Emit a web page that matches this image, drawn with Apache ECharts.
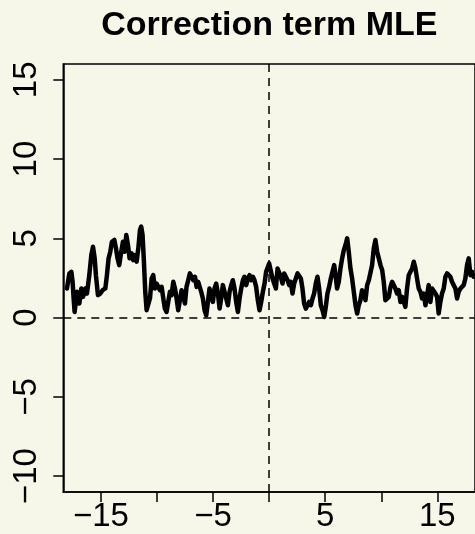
<!DOCTYPE html>
<html>
<head>
<meta charset="utf-8">
<script src="https://cdn.jsdelivr.net/npm/echarts@6/dist/echarts.min.js"></script>
<style>
  html, body { margin: 0; padding: 0; background: #F6F6E9; }
  #chart { width: 475px; height: 534px; }
</style>
</head>
<body>
<div id="chart"></div>
<script>
// Correction term estimate along the position axis
const positions = [
  -18.03, -17.82, -17.64, -17.53, -17.44, -17.35, -17.14, -16.93, -16.75, -16.60,
  -16.40, -16.25, -16.04, -15.86, -15.71, -15.56, -15.45, -15.27, -15.06, -14.85,
  -14.61, -14.47, -14.32, -14.17, -14.02, -13.81, -13.66, -13.52, -13.37, -13.19,
  -13.04, -12.89, -12.74, -12.59, -12.45,
  -12.27, -12.12, -11.97, -11.82, -11.67, -11.52, -11.41, -11.29, -11.17, -11.05,
  -10.93, -10.78, -10.63, -10.48, -10.34, -10.19, -10.04, -9.89, -9.74, -9.59,
  -9.44, -9.30, -9.15, -9.00, -8.85, -8.70, -8.55, -8.40, -8.26, -8.11,
  -7.96, -7.81, -7.66, -7.51, -7.37, -7.22, -7.07, -6.92, -6.77, -6.62,
  -6.47, -6.33,
  -6.21, -6.06, -5.91, -5.76, -5.61, -5.46, -5.32, -5.17, -5.02, -4.87,
  -4.72, -4.57, -4.42, -4.28, -4.13, -3.98, -3.83, -3.68, -3.53, -3.38,
  -3.24, -3.09, -2.94, -2.79, -2.64, -2.49, -2.34, -2.20, -2.05, -1.90,
  -1.75, -1.60, -1.45, -1.31, -1.16, -1.01, -0.86, -0.71, -0.56, -0.41,
  -0.27,
  -0.15, 0.00, 0.15, 0.30, 0.45, 0.60, 0.75, 0.89, 1.04, 1.19,
  1.34, 1.49, 1.64, 1.79, 1.93, 2.08, 2.23, 2.38, 2.53, 2.68,
  2.83, 2.97, 3.12, 3.27, 3.42, 3.57, 3.72, 3.87, 4.01, 4.16,
  4.31, 4.46, 4.61, 4.76, 4.91, 5.05, 5.20, 5.35, 5.50, 5.65,
  5.80,
  5.92, 6.06, 6.21, 6.36, 6.51, 6.66, 6.81, 6.96, 7.10, 7.25,
  7.40, 7.55, 7.70, 7.85, 7.99, 8.14, 8.29, 8.44, 8.59, 8.74,
  8.89, 9.04, 9.18, 9.33, 9.48, 9.63, 9.78, 9.93, 10.08, 10.22,
  10.37, 10.52, 10.67, 10.82, 10.97, 11.12, 11.26, 11.41, 11.56, 11.71,
  11.86,
  12.01, 12.15, 12.30, 12.45, 12.60, 12.75, 12.90, 13.05, 13.19, 13.34,
  13.49, 13.64, 13.79, 13.94, 14.09, 14.23, 14.38, 14.53, 14.68, 14.83,
  14.98, 15.12, 15.27, 15.42, 15.57, 15.72, 15.87, 16.02, 16.16, 16.31,
  16.46, 16.61, 16.76, 16.91, 17.06, 17.20, 17.35, 17.50, 17.65, 17.80,
  17.95, 18.10, 18.24, 18.50
];

const correction = [
  1.84, 2.79, 2.89, 2.26, 1.21, 0.36, 1.63, 0.89, 1.84, 1.31,
  1.84, 1.52, 2.68, 3.95, 4.47, 3.74, 2.68, 1.42, 1.52, 1.73,
  1.84, 2.68, 3.74, 4.16, 4.79, 4.90, 4.37, 3.74, 3.31, 4.16,
  4.79, 4.16, 5.21, 4.58, 3.74,
  4.05, 3.63, 3.95, 3.53, 4.37, 5.53, 5.74, 5.21, 3.53, 1.63,
  0.47, 0.36, 1.21, 2.47, 2.68, 1.84, 2.15, 1.94, 1.73, 1.94,
  1.21, 0.57, 0.36, 0.99, 1.63, 1.42, 2.26, 1.84, 1.21, 0.47,
  1.10, 1.73, 1.63, 0.89, 1.94, 2.36, 2.79, 2.89, 2.36, 2.58,
  1.94, 2.26,
  2.36, 1.63, 1.21, 0.47, 0.15, 0.99, 1.84, 1.84, 0.99, 1.84,
  2.15, 1.52, 0.57, 1.21, 2.05, 1.94, 1.21, 0.78, 1.63, 2.05,
  2.36, 1.84, 0.99, 0.36, 1.21, 1.84, 2.36, 2.58, 2.05, 2.47,
  2.68, 2.36, 2.58, 2.36, 1.94, 1.10, 0.47, 0.99, 1.63, 2.15,
  2.89,
  2.89, 3.42, 3.31, 2.47, 2.58, 1.84, 3.10, 3.21, 2.58, 2.15,
  2.79, 2.68, 2.36, 2.05, 2.26, 1.52, 2.15, 2.47, 2.79, 2.89,
  2.47, 1.84, 0.89, 0.57, 0.78, 0.99, 0.78, 1.21, 1.52, 2.15,
  2.58, 1.84, 0.78, 0.47, 0.04, 0.68, 1.52, 1.94, 2.47, 2.89,
  3.31,
  2.68, 1.84, 2.26, 3.10, 3.74, 4.26, 4.58, 5.00, 4.16, 3.10,
  2.47, 1.63, 0.78, 0.26, 0.78, 1.10, 1.73, 1.52, 1.10, 2.05,
  2.36, 2.36, 3.31, 4.37, 4.90, 4.16, 3.74, 3.31, 3.00, 2.26,
  1.10, 0.99, 1.31, 1.94, 2.26, 2.15, 1.84, 1.52, 1.73, 0.99,
  1.31,
  0.99, 0.68, 1.84, 2.68, 2.89, 3.10, 3.53, 3.10, 2.47, 1.84,
  1.63, 1.21, 1.52, 0.78, 1.42, 2.05, 0.99, 1.84, 1.94, 1.52,
  1.31, 0.26, 0.99, 1.52, 1.84, 2.58, 2.79, 2.68, 2.58, 2.26,
  2.05, 1.84, 1.21, 1.63, 1.84, 1.84, 2.05, 2.47, 3.31, 3.74,
  2.68, 2.89, 2.58, 2.60
];

const xTicks = [-15, -10, -5, 0, 5, 10, 15];
const xTickLabels = [-15, -5, 5, 15];
const yTicks = [-10, -5, 0, 5, 10, 15];
const xLimits = [-18.36, 18.36];
const yLimits = [-11, 16];

const FONT = "'Liberation Sans', Arial, Helvetica, sans-serif";
const minus = v => String(v).replace('-', '\u2212');

const chart = echarts.init(document.getElementById('chart'), null, { renderer: 'canvas' });

chart.setOption({
  backgroundColor: '#F6F6E9',
  animation: false,
  title: {
    text: 'Correction term MLE',
    left: 269.3,
    textAlign: 'center',
    top: 9,
    padding: 0,
    textStyle: { fontFamily: FONT, fontWeight: 'bold', fontSize: 34, color: '#000' }
  },
  grid: {
    left: 63.3,
    top: 64,
    width: 412,
    height: 428,
    show: true,
    borderColor: '#000',
    borderWidth: 1.5,
    backgroundColor: 'transparent'
  },
  xAxis: {
    type: 'value',
    min: xLimits[0],
    max: xLimits[1],
    splitLine: { show: false },
    axisLine: { show: true, onZero: false, lineStyle: { color: '#000', width: 1.5 } },
    axisTick: {
      show: true, inside: false, length: 10,
      customValues: xTicks,
      lineStyle: { color: '#000', width: 1.5 }
    },
    axisLabel: {
      customValues: xTickLabels,
      formatter: minus,
      margin: 8,
      fontFamily: FONT, fontSize: 33, color: '#000'
    }
  },
  yAxis: {
    type: 'value',
    min: yLimits[0],
    max: yLimits[1],
    splitLine: { show: false },
    axisLine: { show: true, onZero: false, lineStyle: { color: '#000', width: 1.5 } },
    axisTick: {
      show: true, inside: false, length: 10,
      customValues: yTicks,
      lineStyle: { color: '#000', width: 1.5 }
    },
    axisLabel: {
      customValues: yTicks,
      formatter: minus,
      rotate: 90,
      margin: 20,
      fontFamily: FONT, fontSize: 33, color: '#000'
    }
  },
  series: [{
    type: 'line',
    data: positions.map((x, i) => [x, correction[i]]),
    showSymbol: false,
    clip: true,
    lineStyle: { color: '#000', width: 4.5, join: 'round', cap: 'round' },
    markLine: {
      silent: true,
      symbol: ['none', 'none'],
      label: { show: false },
      lineStyle: { color: '#000', width: 1.5, type: [8, 6] },
      data: [{ xAxis: 0 }, { yAxis: 0 }]
    }
  }]
});
</script>
</body>
</html>
